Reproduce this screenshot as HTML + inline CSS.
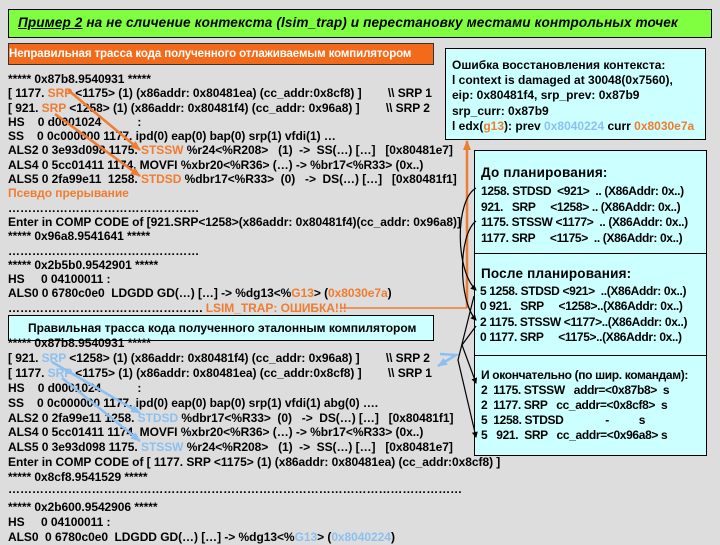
<!DOCTYPE html>
<html><head><meta charset="utf-8"><style>
body{margin:0;width:720px;height:540px;background:#dddddd;position:relative;overflow:hidden;font-family:"Liberation Sans",Arial,sans-serif;}
.l{position:absolute;white-space:nowrap;font-size:12px;font-weight:bold;color:#000;letter-spacing:-0.05px;line-height:14px;}
.o{color:#f07c30}.b{color:#8cc0f0}
.box{position:absolute;border:1px solid #000;box-sizing:border-box;}
.p{letter-spacing:-0.35px;}
</style></head><body>
<div class="box" style="left:8px;top:9px;width:704px;height:29px;background:#80ff40;"></div>
<div class="l" style="left:18px;top:16px;font-size:13.6px;font-style:italic;letter-spacing:0.1px;"><u>Пример 2</u> на не сличение контекста (lsim_trap) и перестановку местами контрольных точек</div>
<div class="box" style="left:8px;top:43px;width:426px;height:22px;background:#f26a1a;border-color:#333;"></div>
<div class="l" style="left:9px;top:47px;color:#fff;font-size:11.5px;letter-spacing:-0.1px;">Неправильная трасса кода полученного отлаживаемым компилятором</div>

<div class="box" style="left:445px;top:48px;width:261px;height:92px;background:#ccffff;"></div>
<div class="l" style="left:452px;top:58px;line-height:15.2px;letter-spacing:0px;">Ошибка восстановления контекста:<br>l context is damaged at 30048(0x7560),<br>eip: 0x80481f4, srp_prev: 0x87b9<br>srp_curr: 0x87b9<br>l edx(<span class="o">g13</span>): prev <span class="b">0x8040224</span> curr <span class="o">0x8030e7a</span></div>

<div class="box" style="left:474px;top:150px;width:233px;height:306px;background:#ccffff;"></div>
<div style="position:absolute;left:474px;top:253px;width:233px;height:1px;background:#000"></div>
<div style="position:absolute;left:474px;top:355px;width:233px;height:1px;background:#000"></div>
<div class="l" style="left:481px;top:166px;font-size:13.5px;letter-spacing:0.2px;">До планирования:</div>
<div class="l p" style="left:481px;top:184px;line-height:15.5px;">1258. STDSD &nbsp;&lt;921&gt; &nbsp;.. (X86Addr: 0x..)<br>921. &nbsp;&nbsp;SRP &nbsp;&nbsp;&nbsp;&nbsp;&lt;1258&gt; .. (X86Addr: 0x..)<br>1175. STSSW &lt;1177&gt; &nbsp;.. (X86Addr: 0x..)<br>1177. SRP &nbsp;&nbsp;&nbsp;&nbsp;&lt;1175&gt; &nbsp;.. (X86Addr: 0x..)</div>
<div class="l" style="left:481px;top:267px;font-size:13.5px;letter-spacing:0.2px;">После планирования:</div>
<div class="l p" style="left:480px;top:284px;line-height:15.3px;">5 1258. STDSD &lt;921&gt; &nbsp;..(X86Addr: 0x..)<br>0 921. &nbsp;&nbsp;SRP &nbsp;&nbsp;&nbsp;&nbsp;&lt;1258&gt;..(X86Addr: 0x..)<br>2 1175. STSSW &lt;1177&gt;..(X86Addr: 0x..)<br>0 1177. SRP &nbsp;&nbsp;&nbsp;&nbsp;&lt;1175&gt;..(X86Addr: 0x..)</div>
<div class="l p" style="left:481px;top:368px;">И окончательно (по шир. командам):</div>
<div class="l p" style="left:481px;top:383px;line-height:15px;">2 &nbsp;1175. STSSW &nbsp;&nbsp;addr=&lt;0x87b8&gt; &nbsp;s<br>2 &nbsp;1177. SRP &nbsp;&nbsp;cc_addr=&lt;0x8cf8&gt; &nbsp;s<br>5 &nbsp;1258. STDSD &nbsp;&nbsp;&nbsp;&nbsp;&nbsp;&nbsp;&nbsp;&nbsp;&nbsp;&nbsp;&nbsp;&nbsp;&nbsp;- &nbsp;&nbsp;&nbsp;&nbsp;&nbsp;&nbsp;&nbsp;&nbsp;&nbsp;s<br>5 &nbsp;&nbsp;921. &nbsp;SRP &nbsp;&nbsp;cc_addr=&lt;0x96a8&gt; s</div>

<div class="l" style="left:8px;top:72px;line-height:14.3px;">***** 0x87b8.9540931 *****<br>[ 1177. <span class="o">SRP</span> &lt;1175&gt; (1) (x86addr: 0x80481ea) (cc_addr:0x8cf8) ] &nbsp;&nbsp;&nbsp;&nbsp;&nbsp;&nbsp;&nbsp;\\ SRP 1<br>[ 921. <span class="o">SRP</span> &lt;1258&gt; (1) (x86addr: 0x80481f4) (cc_addr: 0x96a8) ] &nbsp;&nbsp;&nbsp;&nbsp;&nbsp;&nbsp;&nbsp;\\ SRP 2<br>HS &nbsp;&nbsp;&nbsp;0 d0001024 &nbsp;&nbsp;&nbsp;&nbsp;&nbsp;&nbsp;&nbsp;&nbsp;&nbsp;&nbsp;:<br>SS &nbsp;&nbsp;&nbsp;0 0c000000 1177. ipd(0) eap(0) bap(0) srp(1) vfdi(1) …<br>ALS2 0 3e93d098 1175. <span class="o">STSSW</span> %r24&lt;%R208&gt; &nbsp;&nbsp;(1) &nbsp;-&gt; &nbsp;SS(…) […] &nbsp;&nbsp;[0x80481e7]<br>ALS4 0 5cc01411 1174. MOVFI %xbr20&lt;%R36&gt; (…) -&gt; %br17&lt;%R33&gt; (0x..)<br>ALS5 0 2fa99e11 &nbsp;1258. <span class="o">STDSD</span> %dbr17&lt;%R33&gt; &nbsp;(0) &nbsp;&nbsp;-&gt; &nbsp;DS(…) […] &nbsp;&nbsp;[0x80481f1]<br><span class="o">Псевдо прерывание</span><br>…………………………………………<br>Enter in COMP CODE of [921.SRP&lt;1258&gt;(x86addr: 0x80481f4)(cc_addr: 0x96a8)]<br>***** 0x96a8.9541641 *****<br>…………………………………………<br>***** 0x2b5b0.9542901 *****<br>HS &nbsp;&nbsp;&nbsp;&nbsp;0 04100011 :<br>ALS0 0 6780c0e0 &nbsp;LDGDD GD(…) […] -&gt; %dg13&lt;%<span class="o">G13</span>&gt; (<span class="o">0x8030e7a</span>)<br>…………………………………………. <span class="o">LSIM_TRAP: ОШИБКА!!!</span></div>

<div class="box" style="left:8px;top:315px;width:426px;height:26px;background:#ccffff;"></div>
<div class="l" style="left:28px;top:321px;letter-spacing:0px;">Правильная трасса кода полученного эталонным компилятором</div>

<div class="l" style="left:8px;top:336px;line-height:14.9px;">***** 0x87b8.9540931 *****<br>[ 921. <span class="b">SRP</span> &lt;1258&gt; (1) (x86addr: 0x80481f4) (cc_addr: 0x96a8) ] &nbsp;&nbsp;&nbsp;&nbsp;&nbsp;&nbsp;&nbsp;\\ SRP 2<br>[ 1177. <span class="b">SRP</span> &lt;1175&gt; (1) (x86addr: 0x80481ea) (cc_addr:0x8cf8) ] &nbsp;&nbsp;&nbsp;&nbsp;&nbsp;&nbsp;&nbsp;\\ SRP 1<br>HS &nbsp;&nbsp;&nbsp;0 d0001024 &nbsp;&nbsp;&nbsp;&nbsp;&nbsp;&nbsp;&nbsp;&nbsp;&nbsp;&nbsp;:<br>SS &nbsp;&nbsp;&nbsp;0 0c000000 1177. ipd(0) eap(0) bap(0) srp(1) vfdi(1) abg(0) ….<br>ALS2 0 2fa99e11 1258. <span class="b">STDSD</span> %dbr17&lt;%R33&gt; &nbsp;(0) &nbsp;&nbsp;-&gt; &nbsp;DS(…) […] &nbsp;&nbsp;[0x80481f1]<br>ALS4 0 5cc01411 1174. MOVFI %xbr20&lt;%R36&gt; (…) -&gt; %br17&lt;%R33&gt; (0x..)<br>ALS5 0 3e93d098 1175. <span class="b">STSSW</span> %r24&lt;%R208&gt; &nbsp;&nbsp;(1) &nbsp;-&gt; &nbsp;SS(…) […] &nbsp;&nbsp;[0x80481e7]<br>Enter in COMP CODE of [ 1177. SRP &lt;1175&gt; (1) (x86addr: 0x80481ea) (cc_addr:0x8cf8) ]<br>***** 0x8cf8.9541529 *****<br><br>***** 0x2b600.9542906 *****<br>HS &nbsp;&nbsp;&nbsp;&nbsp;0 04100011 :<br>ALS0 &nbsp;0 6780c0e0 &nbsp;LDGDD GD(…) […] -&gt; %dg13&lt;%<span class="b">G13</span>&gt; (<span class="b">0x8040224</span>)</div>
<div class="l" style="left:8px;top:482px;">……………………………………………………………………………………………………</div>

<svg width="720" height="540" style="position:absolute;left:0;top:0" fill="none">
<defs>
<marker id="ao" markerUnits="userSpaceOnUse" markerWidth="10" markerHeight="10" refX="9" refY="5" orient="auto"><path d="M0,1L10,5L0,9z" fill="#f07c30"/></marker>
<marker id="ab" markerUnits="userSpaceOnUse" markerWidth="10" markerHeight="10" refX="9" refY="5" orient="auto"><path d="M0,1L10,5L0,9z" fill="#8cc0f0"/></marker>
<marker id="ak" markerUnits="userSpaceOnUse" markerWidth="6" markerHeight="6" refX="5" refY="3" orient="auto"><path d="M0,0L6,3L0,6z" fill="#000"/></marker>
</defs>
<g stroke="#f07c30" stroke-width="2.5">
<line x1="68" y1="90" x2="140" y2="150" marker-end="url(#ao)"/>
<line x1="55" y1="114" x2="140" y2="176" marker-end="url(#ao)"/>
<line x1="340" y1="308" x2="467" y2="308" stroke-width="1.5"/>
<line x1="467" y1="308" x2="467" y2="141" marker-end="url(#ao)"/>
</g>
<g stroke="#8cc0f0" stroke-width="2.5">
<line x1="52" y1="362" x2="140" y2="413" marker-end="url(#ab)"/>
<line x1="62" y1="378" x2="140" y2="441" marker-end="url(#ab)"/>
<polyline points="440,354 456,355 438,366" marker-end="url(#ab)"/>
</g>
<g stroke="#000" stroke-width="1.2">
<path d="M476,188 C455,200 455,270 476,290" marker-end="url(#ak)"/>
<path d="M476,221 C458,235 458,300 476,320" marker-end="url(#ak)"/>
<path d="M474,296 L458,360 L476,437" marker-end="url(#ak)"/>
<path d="M476,326 L462,345 L476,383" marker-end="url(#ak)"/>
</g>
</svg>
</body></html>
